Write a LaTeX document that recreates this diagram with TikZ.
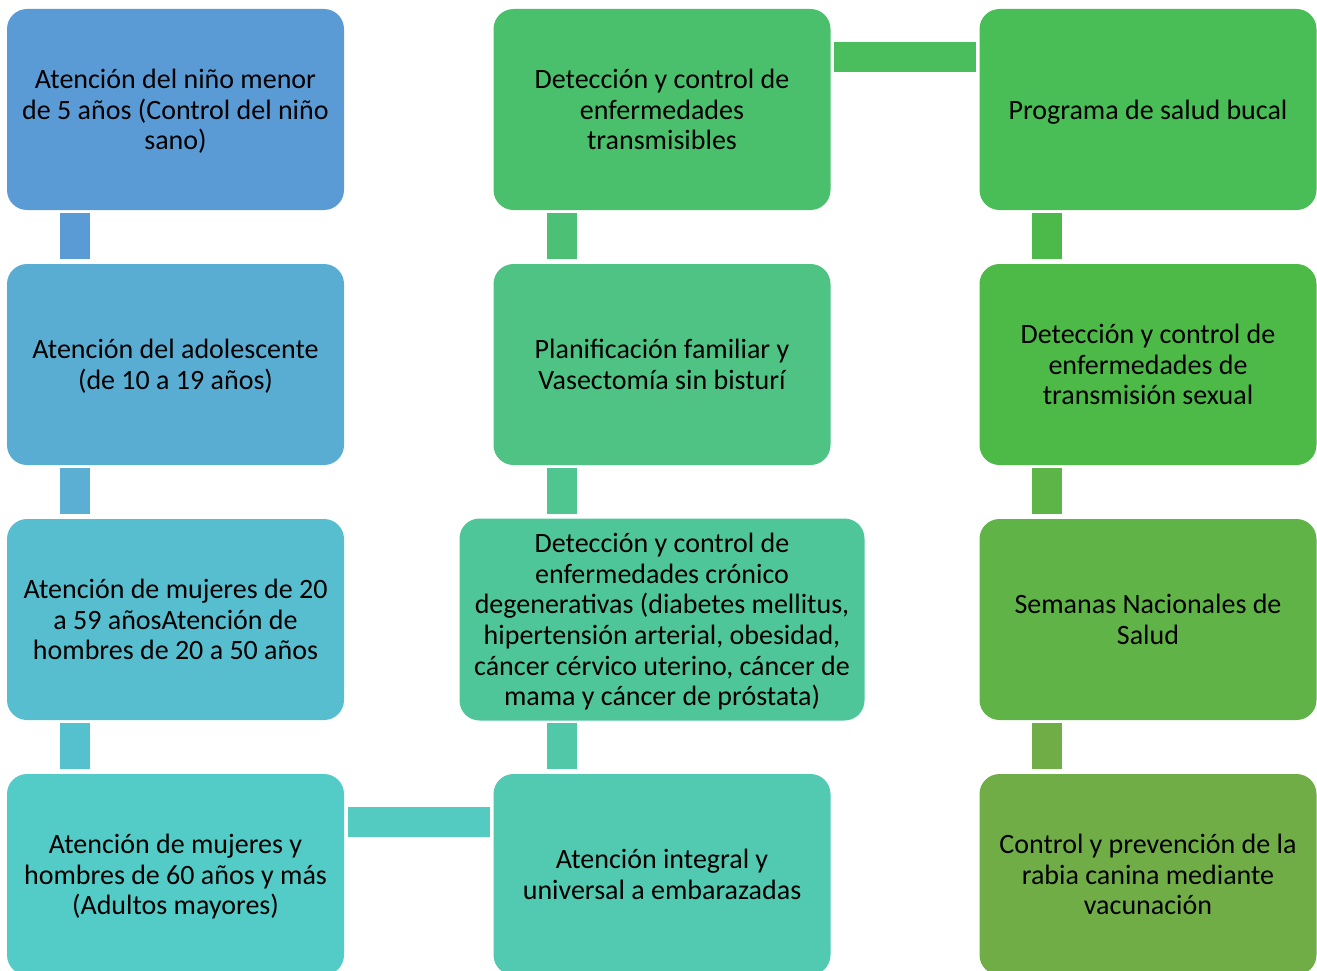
\documentclass[tikz,border=0pt]{standalone}
\usepackage{fontspec}
\setmainfont{Carlito}
\definecolor{b0}{HTML}{5B9BD5}
\definecolor{b1}{HTML}{5AADD2}
\definecolor{b2}{HTML}{57BECF}
\definecolor{b3}{HTML}{53CCC7}
\definecolor{b4}{HTML}{52C9B1}
\definecolor{b5}{HTML}{4FC69A}
\definecolor{b6}{HTML}{4EC383}
\definecolor{b7}{HTML}{4BC06C}
\definecolor{b8}{HTML}{49BD56}
\definecolor{b9}{HTML}{4DB947}
\definecolor{b10}{HTML}{60B447}
\definecolor{b11}{HTML}{70AD47}
\colorlet{k0}{b0}
\colorlet{k1}{b1!90!b2}
\colorlet{k2}{b2!80!b3}
\colorlet{k3}{b3!70!b4}
\colorlet{k4}{b4!60!b5}
\colorlet{k5}{b5!50!b6}
\colorlet{k6}{b6!40!b7}
\colorlet{k7}{b7!30!b8}
\colorlet{k8}{b8!20!b9}
\colorlet{k9}{b9!10!b10}
\colorlet{k10}{b11}
\tikzset{
  box/.style={rounded corners=20pt, minimum width=337pt, minimum height=201pt,
    align=center, inner sep=2pt, text=black, text depth=0pt,
    font=\fontsize{28}{30.7}\selectfont},
  link/.style={line width=30.5pt, line cap=butt}
}
\begin{document}
\begin{tikzpicture}[x=1pt,y=-1pt]
\useasboundingbox (0,0) rectangle (1317,971);
% column 1
\node[box, fill=b0] (a1) at (175.5,109.5) {Atención del niño menor\\de 5 años (Control del niño\\sano)};
\node[box, fill=b1] (a2) at (175.5,364.5) {Atención del adolescente\\(de 10 a 19 años)};
\node[box, fill=b2] (a3) at (175.5,619.5) {Atención de mujeres de 20\\a 59 añosAtención de\\hombres de 20 a 50 años};
\node[box, fill=b3] (a4) at (175.5,874.5) {Atención de mujeres y\\hombres de 60 años y más\\(Adultos mayores)};
% column 2
\node[box, fill=b4] (b4n) at (662,874.5) {Atención integral y\\universal a embarazadas};
\node[box, fill=b5, minimum width=405pt, minimum height=202pt] (b3n) at (662,619.5) {Detección y control de\\enfermedades crónico\\degenerativas (diabetes mellitus,\\hipertensión arterial, obesidad,\\cáncer cérvico uterino, cáncer de\\mama y cáncer de próstata)};
\node[box, fill=b6] (b2n) at (662,364.5) {Planificación familiar y\\Vasectomía sin bisturí};
\node[box, fill=b7] (b1n) at (662,109.5) {Detección y control de\\enfermedades\\transmisibles};
% column 3
\node[box, fill=b8] (c1) at (1148,109.5) {Programa de salud bucal};
\node[box, fill=b9] (c2) at (1148,364.5) {Detección y control de\\enfermedades de\\transmisión sexual};
\node[box, fill=b10] (c3) at (1148,619.5) {Semanas Nacionales de\\Salud};
\node[box, fill=b11] (c4) at (1148,874.5) {Control y prevención de la\\rabia canina mediante\\vacunación};
% connectors
\draw[link, k0] ([shift={(-100.5,2.5)}]a1.south) -- ([shift={(-100.5,-4.5)}]a2.north);
\draw[link, k1] ([shift={(-100.5,2.5)}]a2.south) -- ([shift={(-100.5,-4.5)}]a3.north);
\draw[link, k2] ([shift={(-100.5,2.5)}]a3.south) -- ([shift={(-100.5,-4.5)}]a4.north);
\draw[link, k3] ([shift={(4,-52.5)}]a4.east) -- ([shift={(-3,-52.5)}]b4n.west);
\draw[link, k4] ([shift={(-100,-4.5)}]b4n.north) -- ([shift={(-100,2.5)}]b3n.south);
\draw[link, k5] ([shift={(-100,-4.5)}]b3n.north) -- ([shift={(-100,2.5)}]b2n.south);
\draw[link, k6] ([shift={(-100,-4.5)}]b2n.north) -- ([shift={(-100,2.5)}]b1n.south);
\draw[link, k7] ([shift={(3,-52.5)}]b1n.east) -- ([shift={(-3,-52.5)}]c1.west);
\draw[link, k8] ([shift={(-101,2.5)}]c1.south) -- ([shift={(-101,-4.5)}]c2.north);
\draw[link, k9] ([shift={(-101,2.5)}]c2.south) -- ([shift={(-101,-4.5)}]c3.north);
\draw[link, k10] ([shift={(-101,2.5)}]c3.south) -- ([shift={(-101,-4.5)}]c4.north);
\end{tikzpicture}
\end{document}
